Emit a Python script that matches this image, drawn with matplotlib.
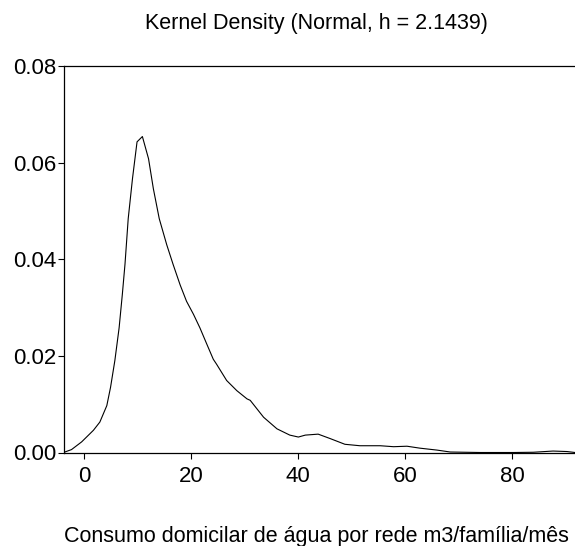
import numpy as np
import matplotlib.pyplot as plt

# density curve
consumo = [-3.9, -2.4, -0.5, 1.7, 2.9, 4.2, 4.9, 5.7, 6.5, 7.1, 7.6, 8.2, 9.0, 9.85,
           10.85, 12.0, 12.9, 14.0, 15.4, 16.6, 17.9, 19.1, 20.4, 21.6, 22.9, 24.1,
           24.7, 26.6, 28.5, 30.4, 31.0, 33.5, 36.0, 38.4, 40.0, 41.3, 43.7, 45.9,
           48.7, 51.5, 55.3, 57.8, 60.3, 62.7, 65.9, 68.4, 74.0, 80.2, 83.9, 87.6,
           90.2, 91.7]
densidade = [0.0, 0.0006, 0.0022, 0.0046, 0.0063, 0.0097, 0.0135, 0.0190, 0.0258,
             0.0327, 0.0390, 0.0484, 0.0567, 0.0643, 0.0654, 0.0608, 0.0546, 0.0484,
             0.0430, 0.0389, 0.0347, 0.0313, 0.0286, 0.0258, 0.0224, 0.0193, 0.0183,
             0.0149, 0.0128, 0.0111, 0.0108, 0.0073, 0.0049, 0.0036, 0.0032, 0.0036,
             0.0038, 0.0029, 0.0017, 0.0014, 0.0014, 0.0012, 0.0013, 0.0009, 0.0005,
             0.0001, 0.0, 0.0, 0.00005, 0.0003, 0.0002, 0.0]

xticks = [0, 20, 40, 60, 80]
yticks = [0.00, 0.02, 0.04, 0.06, 0.08]
ytick_labels = ['0.00', '0.02', '0.04', '0.06', '0.08']

plt.rcParams['font.family'] = ['Liberation Sans', 'DejaVu Sans']

fig = plt.figure(figsize=(5.75, 5.46), dpi=100)
ax = fig.add_axes([64 / 575, 1 - 452.5 / 546, 511 / 575, 386.5 / 546])

ax.plot(consumo, densidade, color='black', linewidth=0.8)

ax.set_xlim(-3.8, 91.7)
ax.set_ylim(0, 0.08)
ax.set_xticks(xticks)
ax.set_yticks(yticks)
ax.set_yticklabels(ytick_labels)
ax.tick_params(direction='out', length=4.5, width=0.8, labelsize=16)
ax.tick_params(axis='y', pad=1)
ax.tick_params(axis='x', pad=5)
ax.spines['right'].set_visible(False)
for s in ['left', 'top', 'bottom']:
    ax.spines[s].set_linewidth(0.9)

fig.text(316 / 575, 1 - 29.5 / 546, 'Kernel Density (Normal, h = 2.1439)',
         ha='center', va='baseline', fontsize=15.5)
fig.text(316 / 575, 1 - 542 / 546, 'Consumo domicilar de água por rede m3/família/mês',
         ha='center', va='baseline', fontsize=15.5)

fig.savefig('out.png', dpi=100)
